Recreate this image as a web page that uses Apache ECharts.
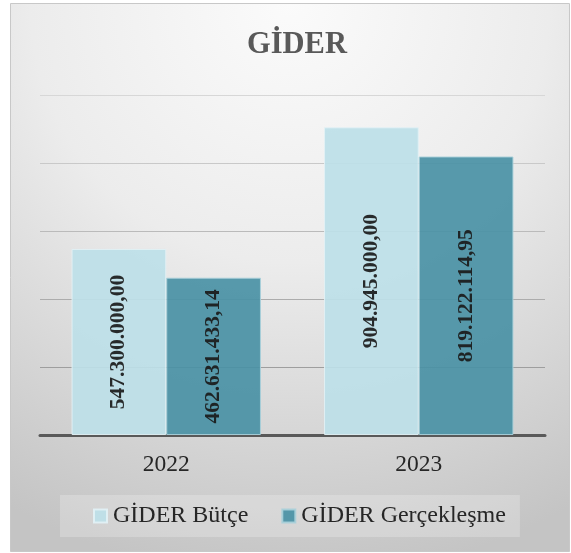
<!DOCTYPE html>
<html>
<head>
<meta charset="utf-8">
<script src="https://cdn.jsdelivr.net/npm/echarts@6/dist/echarts.min.js"></script>
<style>html,body{margin:0;padding:0;background:#fff;}#c{width:571px;height:553px;}</style>
</head>
<body>
<div id="c"></div>
<script>
const titleText = 'GİDER';
const categories = ['2022', '2023'];
const seriesNames = ['GİDER Bütçe', 'GİDER Gerçekleşme'];
const butce = [547300000.00, 904945000.00];
const gerceklesme = [462631433.14, 819122114.95];
const yMin = 0, yMax = 1000000000, yInterval = 200000000;

function fmt(v) {
  const parts = v.toFixed(2).split('.');
  return parts[0].replace(/\B(?=(\d{3})+(?!\d))/g, '.') + ',' + parts[1];
}

const chart = echarts.init(document.getElementById('c'), null, {renderer: 'canvas'});
const serif = '"Liberation Serif", "Times New Roman", serif';
const gridGrad = new echarts.graphic.LinearGradient(0, 90, 0, 440, [
  {offset: 0, color: '#d8d8d8'}, {offset: 1, color: '#8f8f8f'}], true);

const labelCfg = {
  show: true, position: 'inside', rotate: 90,
  fontFamily: serif, fontWeight: 'bold', fontSize: 21.5, color: '#1a1a1a',
  formatter: p => fmt(p.value)
};

chart.setOption({
  animation: false,
  graphic: [{
    type: 'rect', z: -10, silent: true,
    shape: {x: 10.5, y: 3.5, width: 559, height: 548},
    style: {
      fill: new echarts.graphic.RadialGradient(0.5, 0, 1.05, [
        {offset: 0, color: '#fbfbfb'}, {offset: 0.45, color: '#ececec'}, {offset: 1, color: '#c4c4c4'}]),
      stroke: '#c8c8c8', lineWidth: 1
    }
  }],
  title: {
    text: titleText, left: 242, top: 25,
    textStyle: {fontFamily: serif, fontWeight: 'bold', fontSize: 30.5, color: '#595959'}
  },
  legend: {
    data: seriesNames, left: 60, top: 495,
    padding: [9, 14, 9, 33],
    backgroundColor: 'rgba(255,255,255,0.22)',
    itemWidth: 13, itemHeight: 13, itemGap: 33, icon: 'rect',
    textStyle: {fontFamily: serif, fontSize: 24, color: '#262626', padding: [0, 0, 0, 1]}
  },
  grid: {left: 40, right: 26, top: 95, bottom: 118},
  xAxis: {
    type: 'category', data: categories,
    axisLine: {lineStyle: {color: '#595959', width: 3}},
    axisTick: {show: false},
    axisLabel: {fontFamily: serif, fontSize: 23.5, color: '#262626', margin: 18}
  },
  yAxis: {
    type: 'value', min: yMin, max: yMax, interval: yInterval,
    axisLabel: {show: false}, axisLine: {show: false}, axisTick: {show: false},
    splitLine: {lineStyle: {color: gridGrad, width: 1}}
  },
  series: [{
    name: seriesNames[0], type: 'bar', data: butce,
    barGap: '0%', barCategoryGap: '25%',
    itemStyle: {color: '#bde0e8', borderColor: '#e2f1f5', borderWidth: 1, opacity: 0.92},
    label: labelCfg
  }, {
    name: seriesNames[1], type: 'bar', data: gerceklesme,
    itemStyle: {color: '#4a91a5', borderColor: '#a9d0da', borderWidth: 1, opacity: 0.92},
    label: labelCfg
  }]
});
</script>
</body>
</html>
